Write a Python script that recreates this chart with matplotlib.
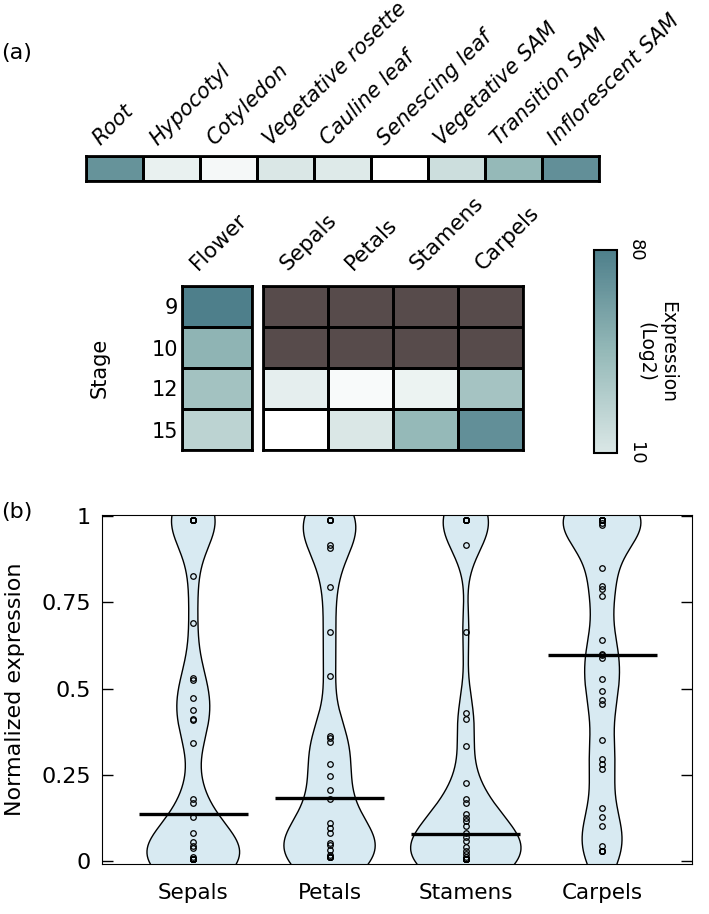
import numpy as np
import matplotlib
matplotlib.use("Agg")
import matplotlib.pyplot as plt
from matplotlib.colors import LinearSegmentedColormap, Normalize
from matplotlib.cm import ScalarMappable
from matplotlib.mlab import GaussianKDE

# ---- panel (a) data ----
tissues = ["Root", "Hypocotyl", "Cotyledon", "Vegetative rosette", "Cauline leaf",
           "Senescing leaf", "Vegetative SAM", "Transition SAM", "Inflorescent SAM"]
tissue_expr = [68, 6, 3, 10, 9, 0, 17, 45, 70]

stages = ["9", "10", "12", "15"]
flower_expr = [80, 48, 38, 25]
organs = ["Sepals", "Petals", "Stamens", "Carpels"]
nan = np.nan
organ_expr = [[nan, nan, nan, nan],
              [nan, nan, nan, nan],
              [7, 2, 5, 37],
              [0, 10, 45, 70]]

# ---- panel (b) data (values at the ends repeat: overlapping dots) ----
sepals = [0.988, 0.988, 0.988, 0.988, 0.988, 0.988, 0.988,
          0.826, 0.690, 0.530, 0.524, 0.474, 0.437, 0.413, 0.408, 0.343,
          0.179, 0.169, 0.129, 0.083, 0.057, 0.045, 0.038, 0.013,
          0.007, 0.007, 0.007, 0.007, 0.007, 0.007, 0.007, 0.007, 0.007, 0.007]
petals = [0.988, 0.988, 0.988, 0.988, 0.988,
          0.917, 0.907, 0.795, 0.663, 0.538, 0.362, 0.356, 0.345, 0.283,
          0.248, 0.207, 0.181, 0.112, 0.097, 0.083, 0.053, 0.047, 0.033, 0.018,
          0.011, 0.011, 0.011, 0.011, 0.011]
stamens = [0.988, 0.988, 0.988, 0.988, 0.988, 0.988, 0.988,
           0.916, 0.664, 0.428, 0.413, 0.334, 0.226, 0.179, 0.169, 0.138,
           0.126, 0.117, 0.102, 0.081, 0.071, 0.059, 0.040, 0.031, 0.021, 0.011,
           0.006, 0.006, 0.006, 0.006, 0.006, 0.006, 0.006, 0.006, 0.006, 0.006]
carpels = [0.988, 0.988, 0.988, 0.988, 0.988, 0.988, 0.988, 0.988, 0.988, 0.988, 0.988,
           0.981, 0.973, 0.850, 0.797, 0.790, 0.769, 0.642, 0.601, 0.596,
           0.589, 0.529, 0.492, 0.468, 0.456, 0.350, 0.296, 0.282, 0.267, 0.155,
           0.128, 0.101, 0.043, 0.031, 0.031, 0.031, 0.031]
medians = [0.138, 0.182, 0.078, 0.597]

cmap = LinearSegmentedColormap.from_list(
    "expr", [(0, "#ffffff"), (10 / 80, "#dae7e6"), (45 / 80, "#95b9b8"), (1, "#4e7f8b")])
cmap.set_bad("#574b4b")
norm = Normalize(0, 80)

fig = plt.figure(figsize=(7.09, 9.14), dpi=100)
W, H = 709, 914


def px_axes(x0, y0, x1, y1):
    return fig.add_axes([x0 / W, 1 - y1 / H, (x1 - x0) / W, (y1 - y0) / H])


# tissue strip
ax_s = px_axes(86, 156, 599, 181)
ax_s.pcolormesh(np.array([tissue_expr], dtype=float), cmap=cmap, norm=norm,
                edgecolors="black", linewidth=2)
ax_s.set_xticks([])
ax_s.set_yticks([])
for sp in ax_s.spines.values():
    sp.set_linewidth(2)
for i, lab in enumerate(tissues):
    ax_s.text(i + 0.3, 1.28, lab, transform=ax_s.get_xaxis_transform(), rotation=45,
              ha="left", va="bottom", rotation_mode="anchor", fontsize=15, style="italic")

# flower column
ax_f = px_axes(182, 286, 252, 450)
ax_f.pcolormesh(np.array([flower_expr], dtype=float).T, cmap=cmap, norm=norm,
                edgecolors="black", linewidth=2)
ax_f.invert_yaxis()
ax_f.set_xticks([])
ax_f.set_yticks(np.arange(len(stages)) + 0.5)
ax_f.set_yticklabels(stages, fontsize=15)
ax_f.tick_params(axis="y", length=0, pad=3)
ax_f.set_ylabel("Stage", fontsize=15, labelpad=30)
for sp in ax_f.spines.values():
    sp.set_linewidth(2)
ax_f.text(0.27, 1.075, "Flower", transform=ax_f.transAxes, rotation=45,
          ha="left", va="bottom", rotation_mode="anchor", fontsize=15.5)

# organ grid
ax_o = px_axes(263, 286, 523, 450)
ax_o.pcolormesh(np.ma.masked_invalid(np.array(organ_expr)), cmap=cmap, norm=norm,
                edgecolors="black", linewidth=2)
ax_o.invert_yaxis()
ax_o.set_xticks([])
ax_o.set_yticks([])
for sp in ax_o.spines.values():
    sp.set_linewidth(2)
for j, lab in enumerate(organs):
    ax_o.text(j + 0.42, 1.075, lab, transform=ax_o.get_xaxis_transform(), rotation=45,
              ha="left", va="bottom", rotation_mode="anchor", fontsize=15.5)

# colorbar
cax = px_axes(594, 250, 617, 453)
sm = ScalarMappable(norm=norm, cmap=cmap)
cb = fig.colorbar(sm, cax=cax, boundaries=np.linspace(10, 80, 141), ticks=[10, 80])
cb.outline.set_linewidth(1.5)
cax.tick_params(length=0, pad=7, labelsize=13)
for t in cax.get_yticklabels():
    t.set_rotation(-90)
    t.set_va("center")
cax.text(2.72, 0.5, "Expression\n(Log2)", transform=cax.transAxes, rotation=-90,
         ha="center", va="center", multialignment="center", fontsize=13.5)

fig.text(0.002, 1 - 53 / H, "(a)", fontsize=16, va="center")
fig.text(0.002, 1 - 512 / H, "(b)", fontsize=16, va="center")

# ---- panel (b) violins ----
ax = px_axes(102, 515, 692, 864)
groups = [sepals, petals, stamens, carpels]
widths = [0.68, 0.67, 0.81, 0.57]
positions = np.arange(1, 5)
ylo, yhi = -0.008, 1.003
ygrid = np.linspace(ylo, yhi, 400)
bw = 0.08
for pos, pts, w in zip(positions, groups, widths):
    pts = np.array(pts)
    kde = GaussianKDE(pts, bw_method=bw / pts.std(ddof=1))
    d = kde.evaluate(ygrid)
    half = w / 2 * d / d.max()
    ax.fill_betweenx(ygrid, pos - half, pos + half, facecolor="#d8eaf2", edgecolor="none")
    ax.plot(pos - half, ygrid, color="black", lw=1.0)
    ax.plot(pos + half, ygrid, color="black", lw=1.0)
    ax.plot(np.full(len(pts), pos), pts, "o", mfc="none", mec="black", ms=4, mew=0.9)
ax.hlines(medians, positions - 0.4, positions + 0.4, colors="black", lw=2.4, zorder=5)

ax.set_xlim(0.33, 4.66)
ax.set_ylim(ylo, yhi)
ax.set_xticks(positions)
ax.set_xticklabels(organs, fontsize=15.5)
ax.set_yticks([0, 0.25, 0.5, 0.75, 1])
ax.set_yticklabels(["0", "0.25", "0.5", "0.75", "1"], fontsize=16)
ax.tick_params(axis="x", length=0, pad=14)
ax.tick_params(axis="y", direction="in", length=8, right=True, width=1, pad=8)
ax.set_ylabel("Normalized expression", fontsize=16, labelpad=12)

fig.savefig("out.png", dpi=100)
